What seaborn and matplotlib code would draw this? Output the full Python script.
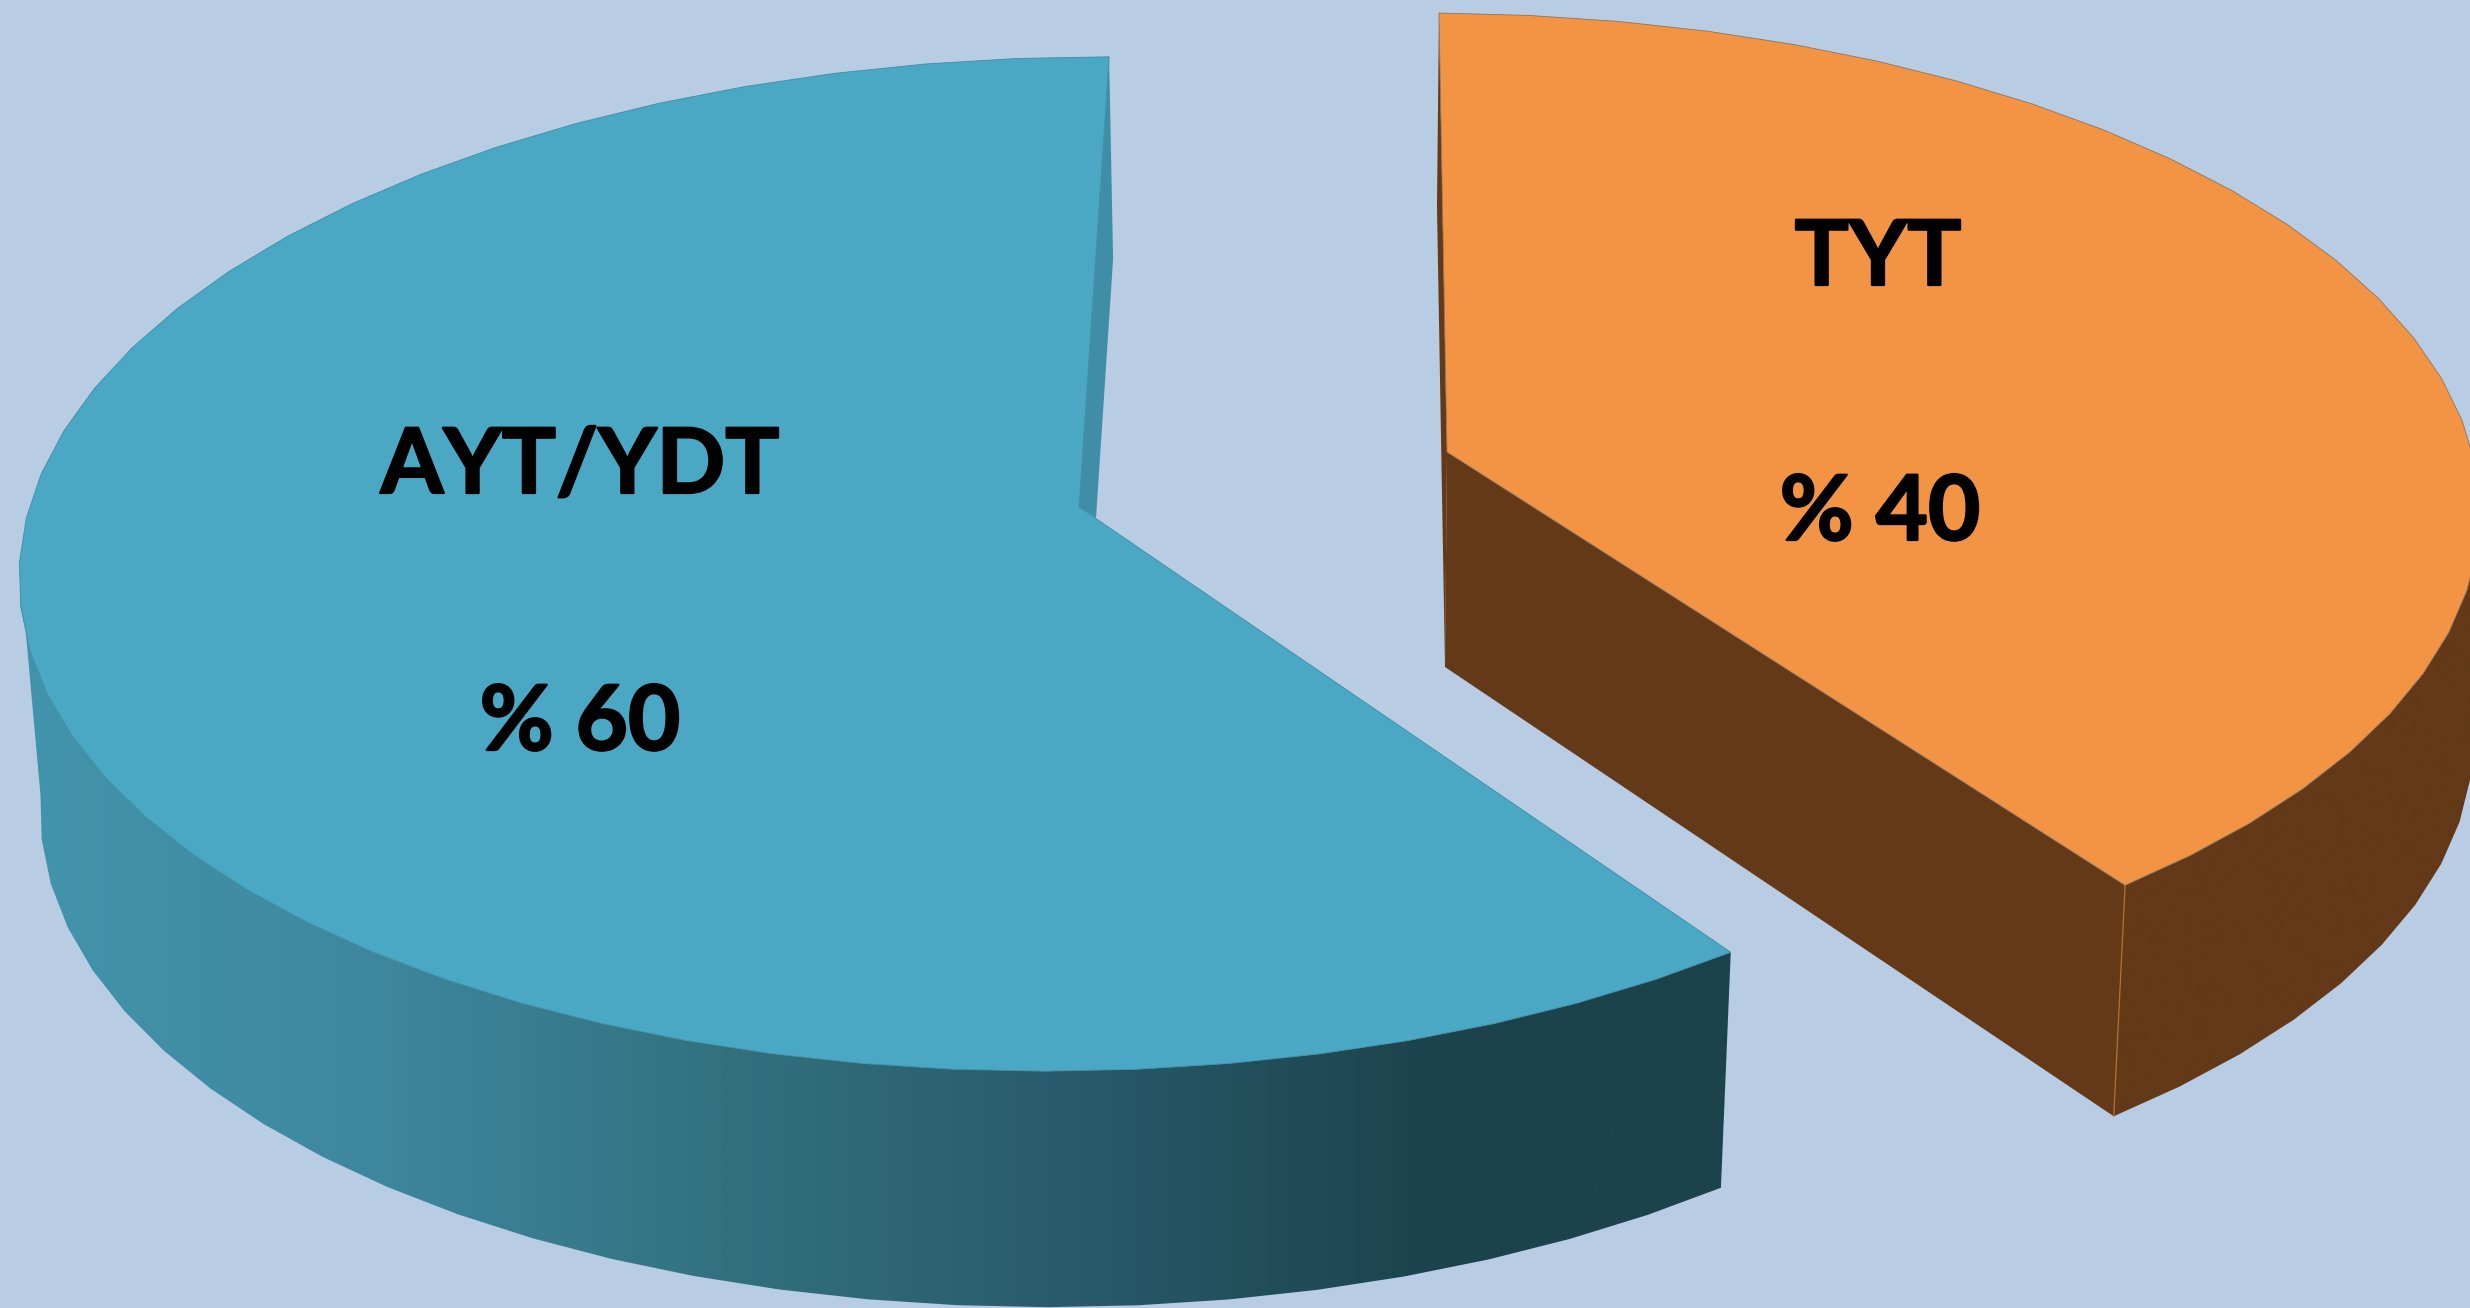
import numpy as np
import matplotlib
matplotlib.use("Agg")
import matplotlib.pyplot as plt
import matplotlib.patheffects as pe
from matplotlib.patches import Polygon
import seaborn as sns

# chart values
labels = ["AYT/YDT", "TYT"]
shares = [60, 40]
share_labels = ["% 60", "% 40"]

# colours
BACKGROUND = "#b8cce4"
top_colors = ["#4aa8c4", "#f39445"]
wall_colors = ["#3f8da6", "#633918"]
rim_colors = ["#3f8da6", "#8c7460"]
side_ramps = [
    ["#4295ad", "#3e889f", "#33717f", "#285a6a", "#1c434d", "#1c424c"],
    ["#633918", "#633918"],
]

# projection of each slice: ellipse of the top face, ellipse of the bottom face,
# and a stretch because the perspective does not keep angles exactly
top_center = [(1074, 564), (1425, 512)]
top_radii = [(1055, 507), (1055, 499)]
bottom_center = [(1076, 797), (1405, 743)]
bottom_radii = [(1036, 510), (1068, 499)]
apex_top = [(1079, 507), (1447, 452)]
apex_drop = [(17, 11), (-2, 215)]
back_drop = [(4, 202), (-2, 193)]
start_angle = [141.5, 0.76]
stretch = [1.0204, 0.956]
shear = [0.013, 0.0]
side_range = [(0, 272), (89, 360)]

label_xy = [(580, 493), (1878, 285)]
share_xy = [(580, 750), (1880, 540)]
STEP = 5.0


def rim(center, radii, angles, tilt):
    a = np.radians(angles)
    x = center[0] + radii[0] * np.sin(a)
    y = center[1] - radii[1] * np.cos(a) - tilt * (x - center[0])
    return np.column_stack([x, y])


sns.set_theme(style="white")
plt.rcParams["font.family"] = ["Lato", "DejaVu Sans"]

fig = plt.figure(figsize=(24.7, 13.08), dpi=100, facecolor=BACKGROUND)
ax = fig.add_axes([0, 0, 1, 1])
ax.set_facecolor(BACKGROUND)

for i, share in enumerate(shares):
    span = share / 100 * 360 * stretch[i]
    n = int(round(span / STEP))
    angles = np.linspace(start_angle[i], start_angle[i] + span, n + 1)
    top = rim(top_center[i], top_radii[i], angles, shear[i])
    bottom = rim(bottom_center[i], bottom_radii[i], angles, shear[i])
    apex = np.array(apex_top[i], dtype=float)

    # the slice that starts at the back shows its inner wall, the other its front cut
    back = top[0] if i == 1 else top[-1]
    wall = [back, back + back_drop[i], apex + apex_drop[i], apex]
    ax.add_patch(Polygon(wall, closed=True, fc=wall_colors[i], ec="none", zorder=2))
    if i == 1:
        front = [apex, top[-1], bottom[-1], apex + apex_drop[i]]
        ax.add_patch(Polygon(front, closed=True, fc=wall_colors[i], ec="none", zorder=2))

    # outer side, only the part facing the viewer, with a left to right gradient
    seen = (angles >= side_range[i][0]) & (angles <= side_range[i][1])
    outline = np.vstack([top[seen], bottom[seen][::-1]])
    side = Polygon(outline, closed=True, fc="none", ec="none", zorder=3)
    ax.add_patch(side)
    ramp = np.array(sns.blend_palette(side_ramps[i], 512))[np.newaxis, :, :]
    image = ax.imshow(ramp, extent=[0, 1800, 1308, 0], aspect="auto", zorder=3,
                      interpolation="bilinear")
    if i == 1:
        image.set_extent([1300, 2500, 1308, 0])
    image.set_clip_path(side)

    face = np.vstack([apex, top])
    ax.add_patch(
        Polygon(face, closed=True, fc=top_colors[i], ec=rim_colors[i], lw=0.6, zorder=4)
    )

    if i == 1:
        ax.plot(
            [top[-1][0], bottom[-1][0]],
            [top[-1][1], bottom[-1][1]],
            color="#b5702f",
            lw=0.9,
            zorder=5,
        )

    for xy, text in ((label_xy[i], labels[i]), (share_xy[i], share_labels[i])):
        t = ax.text(*xy, text, fontsize=65, fontweight="bold", color="black",
                    ha="center", va="baseline", zorder=6)
        t.set_path_effects(
            [pe.withStroke(linewidth=1.6, foreground="black", joinstyle="round")]
        )

ax.set_xlim(0, 2470)
ax.set_ylim(1308, 0)
ax.axis("off")

fig.savefig("out.png", dpi=100, facecolor=BACKGROUND)
plt.close(fig)
